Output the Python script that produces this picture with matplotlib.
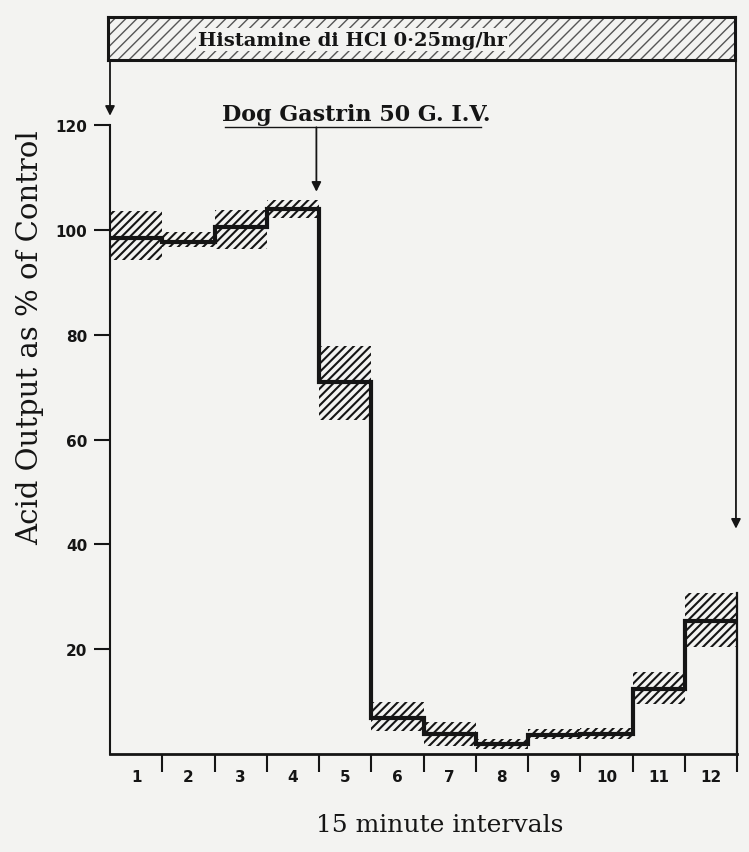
import matplotlib
matplotlib.use("Agg")
import matplotlib.pyplot as plt
from matplotlib.patches import Rectangle
import numpy as np

# 15-minute collection periods
intervals = list(range(1, 13))
interval_labels = [str(i) for i in intervals]

# Acid output as % of control: mean and the band (upper / lower) around it
mean_pct = [98.5, 97.8, 100.5, 104.0, 71.0, 6.8, 3.8, 1.9, 3.6, 3.8, 12.5, 25.3]
upper_pct = [103.6, 99.6, 103.8, 105.7, 77.9, 9.9, 6.1, 2.9, 4.8, 5.0, 15.6, 30.8]
lower_pct = [94.3, 96.8, 96.4, 102.3, 63.7, 4.4, 1.6, 1.0, 2.9, 2.9, 9.5, 20.5]

y_ticks = [20, 40, 60, 80, 100, 120]

infusion_label = "Histamine di HCl 0·25mg/hr"
injection_label = "Dog Gastrin 50 G. I.V."
injection_at = 3.95          # interval position of the gastrin injection
infusion_end_level = 43      # where the infusion arrow stops on the right

BG = "#f3f3f1"
INK = "#151515"
SERIF = ["DejaVu Serif"]

plt.rcParams["hatch.linewidth"] = 1.5

fig = plt.figure(figsize=(7.49, 8.53), dpi=100)
fig.patch.set_facecolor(BG)

W, H = 749, 853
ax = fig.add_axes([110 / W, 1 - 755 / H, 627 / W, (755 - 61) / H])
ax.set_facecolor("none")
ytop = (755 - 61) / 5.24
ax.set_xlim(0, 12)
ax.set_ylim(0, ytop)

n = len(intervals)
left_edges = np.arange(n)
heights = np.array(upper_pct) - np.array(lower_pct)

# hatched spread bands
ax.bar(left_edges, heights, bottom=lower_pct, width=1.0, align="edge",
       fill=False, hatch="////", edgecolor=INK, linewidth=0, zorder=2)

# mean step line
edges = np.arange(n + 1)
ax.step(edges, mean_pct + [mean_pct[-1]], where="post", color=INK,
        lw=3.0, zorder=3, solid_joinstyle="miter")
# closing edge of the last period
ax.plot([12, 12], [0, upper_pct[-1]], color=INK, lw=1.6, zorder=3,
        clip_on=False)

# spines
for s in ("top", "right"):
    ax.spines[s].set_visible(False)
ax.spines["left"].set_bounds(0, 120)
ax.spines["left"].set_linewidth(1.5)
ax.spines["bottom"].set_linewidth(2.0)
ax.spines["left"].set_color(INK)
ax.spines["bottom"].set_color(INK)

# y ticks
ax.set_yticks(y_ticks)
ax.set_yticklabels([str(v) for v in y_ticks])
ax.tick_params(axis="y", direction="out", length=11.5, width=1.5,
               pad=5, labelsize=11, colors=INK)
for lab in ax.get_yticklabels():
    lab.set_fontweight("bold")

# x ticks: boundaries as marks, interval numbers in the middle
ax.set_xticks(intervals)
ax.set_xticklabels([])
ax.set_xticks(left_edges + 0.5, minor=True)
ax.set_xticklabels(interval_labels, minor=True)
ax.tick_params(axis="x", which="major", direction="out", length=13,
               width=1.5, colors=INK)
ax.tick_params(axis="x", which="minor", length=0, pad=11, labelsize=11,
               colors=INK)
for lab in ax.get_xticklabels(minor=True):
    lab.set_fontweight("bold")

arrow_kw = dict(arrowstyle="-|>", color=INK, lw=1.3, mutation_scale=14,
                shrinkA=0, shrinkB=0)

# infusion start / end arrows
ax.annotate("", xy=(0, 121.8), xytext=(0, ytop), arrowprops=arrow_kw,
            annotation_clip=False)
ax.annotate("", xy=(11.98, infusion_end_level), xytext=(11.98, ytop),
            arrowprops=arrow_kw, annotation_clip=False)

# gastrin injection marker
ax.text(4.72, 120.9, injection_label, ha="center", va="baseline",
        fontsize=16, family=SERIF, fontweight="bold", color=INK)
ax.plot([2.2, 7.1], [119.6, 119.6], color=INK, lw=1.0)
ax.annotate("", xy=(injection_at, 107.3), xytext=(injection_at, 119.6),
            arrowprops=arrow_kw)

# infusion bar across the top
bax = fig.add_axes([108 / W, 1 - 61 / H, 627 / W, 43 / H])
bax.set_xlim(0, 1)
bax.set_ylim(0, 1)
bax.set_xticks([])
bax.set_yticks([])
bax.set_facecolor("none")
with plt.rc_context({"hatch.linewidth": 1.0}):
    bax.add_patch(Rectangle((0, 0), 1, 1, fill=False, hatch="///",
                            edgecolor="#555555", linewidth=0))
for s in bax.spines.values():
    s.set_linewidth(2.2)
    s.set_color(INK)
bax.text(0.39, 0.47, infusion_label, ha="center", va="center",
         fontsize=14, family=SERIF, fontweight="bold", color=INK,
         bbox=dict(boxstyle="square,pad=0.12", facecolor=BG,
                   edgecolor="none"))

# axis titles
fig.text(30 / W, 1 - 338 / H, "Acid Output as % of Control", rotation=90,
         ha="center", va="center", fontsize=21, family=SERIF, color=INK)
fig.text(440 / W, 1 - 826 / H, "15 minute intervals", ha="center",
         va="center", fontsize=18, family=SERIF, color=INK)

fig.savefig("out.png", dpi=100, facecolor=BG)
